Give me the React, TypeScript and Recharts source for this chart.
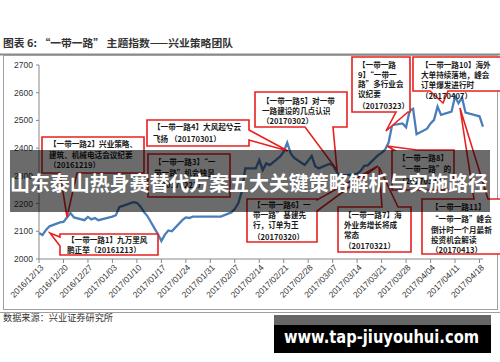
import React from 'react';
import { LineChart, Line, XAxis, YAxis } from 'recharts';

const dates = [
  '2016/12/13', '2016/12/14', '2016/12/15', '2016/12/16', '2016/12/19', '2016/12/20', '2016/12/21', '2016/12/22', '2016/12/23',
  '2016/12/26', '2016/12/27', '2016/12/28', '2016/12/29', '2016/12/30',
  '2017/01/03', '2017/01/04', '2017/01/05', '2017/01/06', '2017/01/09', '2017/01/10', '2017/01/11', '2017/01/12', '2017/01/13',
  '2017/01/16', '2017/01/17', '2017/01/18', '2017/01/19', '2017/01/20', '2017/01/23', '2017/01/24', '2017/01/25', '2017/01/26',
  '2017/02/03', '2017/02/06', '2017/02/07', '2017/02/08', '2017/02/09', '2017/02/10', '2017/02/13', '2017/02/14', '2017/02/15',
  '2017/02/16', '2017/02/17', '2017/02/20', '2017/02/21', '2017/02/22', '2017/02/23', '2017/02/24', '2017/02/27', '2017/02/28',
  '2017/03/01', '2017/03/02', '2017/03/03', '2017/03/06', '2017/03/07', '2017/03/08', '2017/03/09', '2017/03/10', '2017/03/13',
  '2017/03/14', '2017/03/15', '2017/03/16', '2017/03/17', '2017/03/20', '2017/03/21', '2017/03/22', '2017/03/23', '2017/03/24',
  '2017/03/27', '2017/03/28', '2017/03/29', '2017/03/30', '2017/03/31', '2017/04/03', '2017/04/04', '2017/04/05', '2017/04/06',
  '2017/04/07', '2017/04/10', '2017/04/11', '2017/04/12', '2017/04/13', '2017/04/14', '2017/04/17', '2017/04/18', '2017/04/19',
];

const indexValues = [
  2094, 2087, 2105, 2118, 2132, 2134, 2150, 2166, 2150,
  2140, 2152, 2143, 2148, 2140,
  2153, 2158, 2188, 2192, 2205, 2203, 2190, 2170, 2155,
  2090, 2065, 2088, 2103, 2100, 2140, 2150, 2148, 2153,
  2153, 2168, 2180, 2201, 2243, 2327, 2327, 2357, 2321,
  2345, 2339, 2370, 2387, 2420, 2381, 2365, 2339, 2355,
  2372, 2335, 2327, 2343, 2339, 2318, 2297, 2302, 2305,
  2308, 2318, 2336, 2338, 2375, 2383, 2395, 2420, 2483,
  2489, 2475, 2535, 2542, 2450, 2470, 2489, 2502, 2550,
  2520, 2532, 2586, 2562, 2583, 2528, 2518, 2515, 2478,
];

const xTickLabels = [
  '2016/12/13', '2016/12/20', '2016/12/27', '2017/01/03', '2017/01/10', '2017/01/17', '2017/01/24', '2017/01/31',
  '2017/02/07', '2017/02/14', '2017/02/21', '2017/02/28', '2017/03/07', '2017/03/14', '2017/03/21', '2017/03/28',
  '2017/04/04', '2017/04/11', '2017/04/18',
];
const yTicks = [2000, 2100, 2200, 2300, 2400, 2500, 2600, 2700];

const titleText = '图表 6: “一带一路” 主题指数——兴业策略团队';
const sourceText = '数据来源：兴业证券研究所';
const bannerText = '山东泰山热身赛替代方案五大关键策略解析与实施路径';
const watermarkText = 'www.tap-jiuyouhui.com';

const calloutTexts = [
  ['【一带一路1】九万里风', '鹏正举（20161213）'],
  ['【一带一路2】兴业策略、', '建筑、机械电话会议纪要', '（20161219）'],
  ['【一带一路3】“一', '带一路”机会独显', '（20170222）'],
  ['【一带一路4】大风起兮云', '飞扬 （20170301）'],
  ['【一带一路5】对一带', '一路建设的几点认识', '（20170302）'],
  ['【一带一路6】一', '带一路”基建先', '行，订单为王', '（20170320）'],
  ['【一带一路7】海', '外业务增长将成', '常态', '（20170321）'],
  ['【一带一路8】', '“一带一路”的', '（20170322）'],
  ['【一带一路', '9】“一带一', '路”多行业会', '议纪要', '（20170323）'],
  ['【一带一路10】海外', '大单持续落地，峰会', '订单爆发进行时', '（20170407）'],
  ['【一带一路11】', '“一带一路”峰会', '倒计时一个月最新', '投资机会解读', '（20170413）'],
];

const T0 = Date.UTC(2016, 11, 13);
const toDay = (s: string) => {
  const [y, m, d] = s.split('/').map(Number);
  return Math.round((Date.UTC(y, m - 1, d) - T0) / 86400000);
};
const data = dates.map((d, i) => ({ day: toDay(d), value: indexValues[i] }));
const xTicks = xTickLabels.map(toDay);
const lastDay = toDay(dates[dates.length - 1]);

// layout of callouts (pixels)
type Tail = { edge: 'top' | 'bottom' | 'left' | 'right'; a: number; b: number; tx: number; ty: number } | null;
const calloutLayout: { box: [number, number, number, number]; tail: Tail; tx: number; ys: number[] }[] = [
  { box: [60, 234, 98, 21], tail: { edge: 'left', a: 237, b: 246, tx: 50, ty: 233 }, tx: 67, ys: [243, 253] },
  { box: [42, 137, 102, 36], tail: { edge: 'bottom', a: 60, b: 77, tx: 67, ty: 217 }, tx: 49, ys: [147, 158, 168] },
  { box: [148, 154, 82, 43], tail: null, tx: 154, ys: [165, 176, 188] },
  { box: [147, 120, 102, 26], tail: { edge: 'right', a: 130, b: 140, tx: 288, ty: 151 }, tx: 153, ys: [130, 142] },
  { box: [255, 92, 92, 35], tail: { edge: 'bottom', a: 305, b: 333, tx: 337, ty: 170 }, tx: 262, ys: [104, 114, 124] },
  { box: [247, 199, 70, 43], tail: { edge: 'right', a: 200, b: 211, tx: 378, ty: 166 }, tx: 253, ys: [208, 218, 228, 240] },
  { box: [338, 207, 73, 45], tail: { edge: 'top', a: 382, b: 398, tx: 379, ty: 167 }, tx: 344, ys: [218, 228, 238, 249] },
  { box: [392, 150, 62, 40], tail: { edge: 'top', a: 394, b: 417, tx: 387, ty: 146 }, tx: 398, ys: [161, 172, 184] },
  { box: [352, 57, 58, 55], tail: { edge: 'bottom', a: 396, b: 408, tx: 386, ty: 131 }, tx: 358, ys: [68, 78, 87, 97, 109] },
  { box: [413, 57, 95, 34], tail: { edge: 'bottom', a: 430, b: 448, tx: 443, ty: 103 }, tx: 421, ys: [68, 78, 88, 99] },
  { box: [422, 199, 85, 55], tail: { edge: 'top', a: 474, b: 488, tx: 460, ty: 108 }, tx: 431, ys: [210, 222, 233, 243, 253] },
];

function calloutPath(box: [number, number, number, number], tail: Tail) {
  const [x, y, w, h] = box;
  const r = x + w, btm = y + h;
  if (!tail) return `M${x},${y}L${r},${y}L${r},${btm}L${x},${btm}Z`;
  const { edge, a, b, tx, ty } = tail;
  if (edge === 'top') return `M${x},${y}L${a},${y}L${tx},${ty}L${b},${y}L${r},${y}L${r},${btm}L${x},${btm}Z`;
  if (edge === 'bottom') return `M${x},${y}L${r},${y}L${r},${btm}L${b},${btm}L${tx},${ty}L${a},${btm}L${x},${btm}Z`;
  if (edge === 'left') return `M${x},${y}L${r},${y}L${r},${btm}L${x},${btm}L${x},${b}L${tx},${ty}L${x},${a}Z`;
  return `M${x},${y}L${r},${y}L${r},${a}L${tx},${ty}L${r},${b}L${r},${btm}L${x},${btm}Z`;
}

const XTick = (props: any) => {
  const { x, y, payload } = props;
  const idx = xTicks.indexOf(payload.value);
  const label = idx >= 0 ? xTickLabels[idx] : '';
  const px = x + 3, py = y + 1;
  return (
    <text x={px} y={py} transform={`rotate(-45 ${px} ${py})`} textAnchor="end" dy="0.35em"
      fontSize={8.5} fill="#333" fontFamily="'Liberation Sans', Arial, sans-serif">{label}</text>
  );
};

const cjk = "'Noto Sans CJK SC', sans-serif";

export default function App() {
  return (
    <div style={{ position: 'absolute', left: 0, top: 0, width: 500, height: 362, background: '#fff', overflow: 'hidden' }}>
      <svg width={500} height={362} style={{ position: 'absolute', left: 0, top: 0 }}>
        <text x={3} y={47} fontSize={10.5} fontWeight="bold" fill="#333" fontFamily={cjk}
          textLength={230} lengthAdjust="spacingAndGlyphs">{titleText}</text>
        <line x1={0} x2={500} y1={54.5} y2={54.5} stroke="#8a8a8a" strokeWidth={2} />
        <rect x={3.5} y={55.5} width={494} height={254} fill="none" stroke="#a0a0a0" strokeWidth={1} />
        <line x1={0} x2={500} y1={312.5} y2={312.5} stroke="#a0a0a0" strokeWidth={1} />
        <text x={3} y={321} fontSize={9} fill="#333" fontFamily={cjk}
          textLength={110} lengthAdjust="spacingAndGlyphs">{sourceText}</text>
      </svg>
      <div style={{ position: 'absolute', left: 0, top: 0 }}>
        <LineChart width={500} height={362} data={data} margin={{ top: 65, right: 17, bottom: 73, left: 4 }}>
          <XAxis dataKey="day" type="number" domain={[0, lastDay]} ticks={xTicks} interval={0}
            tick={<XTick />} tickSize={4} height={30} stroke="#888" tickLine={{ stroke: '#888' }} />
          <YAxis type="number" domain={[2000, 2700]} ticks={yTicks} width={35} tickSize={3} tickMargin={3}
            stroke="#888" tick={{ fontSize: 8.5, fill: '#333', fontFamily: "'Liberation Sans', Arial, sans-serif" }} />
          <Line type="linear" dataKey="value" stroke="#4A7EBB" strokeWidth={2.3} dot={false} isAnimationActive={false} />
        </LineChart>
      </div>
      <svg width={500} height={362} style={{ position: 'absolute', left: 0, top: 0 }}>
        {calloutLayout.map((c, i) => (
          <g key={i}>
            <path d={calloutPath(c.box, c.tail)} fill="#fff" stroke="#e8201f" strokeWidth={1.6} strokeLinejoin="miter" />
            {calloutTexts[i].map((t, j) => (
              <text key={j} x={c.tx} y={c.ys[j]} fontSize={7.6} fontWeight="bold" fill="#1a1a1a" fontFamily={cjk}>{t}</text>
            ))}
          </g>
        ))}
        <rect x={10} y={150} width={480} height={62} fill="rgba(0,0,0,0.58)" />
        <text x={10} y={191} fontSize={20} fontWeight="bold" fill="#fff" fontFamily={cjk}
          textLength={478} lengthAdjust="spacingAndGlyphs">{bannerText}</text>
        <rect x={274} y={315} width={217} height={38} fill="#000" />
        <rect x={274} y={315} width={217} height={10} fill="#666" />
        <text x={284} y={343} fontSize={17} fontWeight="bold" fill="#fff" fontFamily="'DejaVu Sans', sans-serif"
          textLength={195} lengthAdjust="spacingAndGlyphs">{watermarkText}</text>
      </svg>
    </div>
  );
}
